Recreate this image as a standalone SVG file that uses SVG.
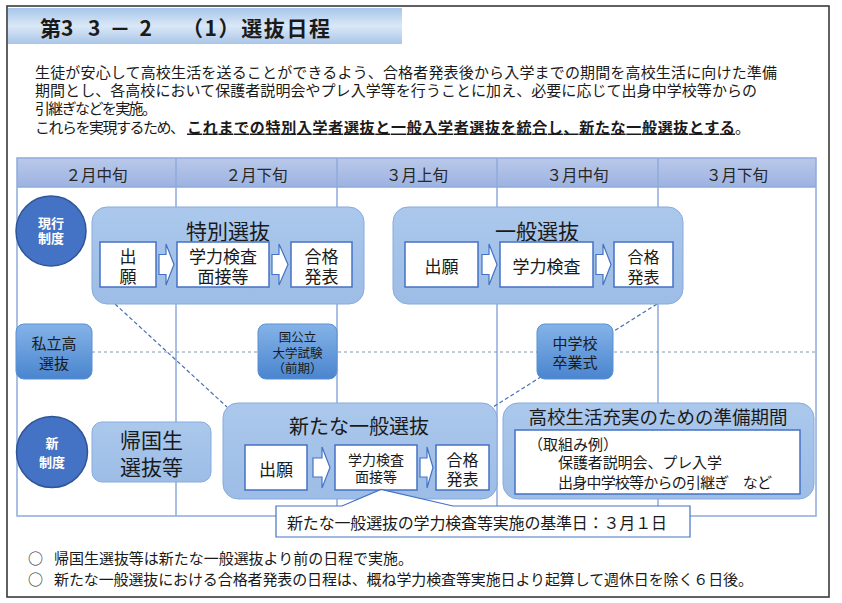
<svg xmlns="http://www.w3.org/2000/svg" width="842" height="603" viewBox="0 0 842 603">
<defs>
  <linearGradient id="gHead" x1="0" y1="0" x2="0" y2="1">
    <stop offset="0" stop-color="#a7c6ea"/>
    <stop offset="0.5" stop-color="#dae8f7"/>
    <stop offset="1" stop-color="#a9c5e8"/>
  </linearGradient>
  <linearGradient id="gTh" x1="0" y1="0" x2="0" y2="1">
    <stop offset="0" stop-color="#bac9ea"/>
    <stop offset="1" stop-color="#9cb2e0"/>
  </linearGradient>
  <linearGradient id="gEvt" x1="0" y1="0" x2="0" y2="1">
    <stop offset="0" stop-color="#85b3e8"/>
    <stop offset="1" stop-color="#4a85cf"/>
  </linearGradient>
  <linearGradient id="gBig" x1="0" y1="0" x2="0" y2="1">
    <stop offset="0" stop-color="#abc8ec"/>
    <stop offset="1" stop-color="#9dbde6"/>
  </linearGradient>
</defs>
<style>
  text { font-family: 'Noto Sans CJK JP','Noto Sans CJK SC',sans-serif; fill:#1a1a1a; }
  .m { text-anchor:middle; }
  .big { fill:url(#gBig); stroke:#86abdf; stroke-width:1; }
  .step { fill:#ffffff; stroke:#4472c4; stroke-width:1.5; }
  .arr { fill:#ffffff; stroke:#4472c4; stroke-width:1.2; }
  .evt { fill:url(#gEvt); stroke:#5b8fd3; stroke-width:1; }
  .circ { fill:#4472c4; stroke:#2f5597; stroke-width:1.5; }
  .ct { fill:#ffffff; font-weight:bold; font-size:13px; text-anchor:middle; }
  .grid { stroke:#8eaadb; stroke-width:1.5; fill:none; }
  .dd { stroke:#4a6fb5; stroke-width:1.2; stroke-dasharray:4 2.5; fill:none; }
  .dh { stroke:#8497b0; stroke-width:1; stroke-dasharray:3 3; fill:none; }
  .p { font-size:15px; }
  .th { font-size:15.5px; text-anchor:middle; fill:#262626; }
  .bt { font-size:21px; text-anchor:middle; }
  .s17 { font-size:17px; text-anchor:middle; }
</style>

<!-- frame -->
<rect x="7" y="6" width="822" height="591" fill="#ffffff" stroke="#3a3a3a" stroke-width="1.6"/>
<rect x="8" y="8" width="394" height="36" fill="url(#gHead)"/>

<g id="title">
  <text x="40" y="35.5" font-size="21" font-weight="bold">第3</text>
  <text x="88" y="35.5" font-size="21" font-weight="bold" textLength="64">3－2</text>
  <text x="182" y="35.5" font-size="21" font-weight="bold" textLength="148">（1）選抜日程</text>
</g>

<g id="intro">
  <text class="p" x="35" y="77.5" textLength="742">生徒が安心して高校生活を送ることができるよう、合格者発表後から入学までの期間を高校生活に向けた準備</text>
  <text class="p" x="35" y="95.5" textLength="722">期間とし、各高校において保護者説明会やプレ入学等を行うことに加え、必要に応じて出身中学校等からの</text>
  <text class="p" x="35" y="113.5" textLength="122">引継ぎなどを実施。</text>
  <text class="p" x="35" y="132.5" textLength="150">これらを実現するため、</text>
  <text class="p" x="187" y="132.5" textLength="548" font-weight="bold" text-decoration="underline">これまでの特別入学者選抜と一般入学者選抜を統合し、新たな一般選抜とする</text>
  <text class="p" x="735" y="132.5">。</text>
</g>

<!-- table grid -->
<g id="table">
  <rect x="17" y="158" width="799" height="29" fill="url(#gTh)"/>
  <rect x="17" y="158" width="799" height="358" class="grid"/>
  <line x1="17" y1="187" x2="816" y2="187" class="grid"/>
  <line x1="176" y1="158" x2="176" y2="516" class="grid"/>
  <line x1="337" y1="158" x2="337" y2="516" class="grid"/>
  <line x1="497" y1="158" x2="497" y2="516" class="grid"/>
  <line x1="658" y1="158" x2="658" y2="516" class="grid"/>
  <text class="th" x="96.5" y="180.5">２月中旬</text>
  <text class="th" x="256.5" y="180.5">２月下旬</text>
  <text class="th" x="417" y="180.5">３月上旬</text>
  <text class="th" x="577.5" y="180.5">３月中旬</text>
  <text class="th" x="737" y="180.5">３月下旬</text>
</g>

<g id="connectors">
  <line x1="92" y1="352" x2="816" y2="352" class="dh"/>
  <line x1="115" y1="304" x2="227" y2="407" class="dd"/>
  <line x1="657" y1="304" x2="493" y2="407" class="dd"/>
</g>

<g id="current-system">
  <circle cx="51" cy="231" r="35" class="circ"/>
  <text class="ct" x="51" y="227.5">現行<tspan x="51" dy="15.5">制度</tspan></text>
</g>

<g id="new-system">
  <circle cx="52" cy="452" r="35.5" class="circ"/>
  <text class="ct" x="52" y="447.5">新<tspan x="52" dy="19.5">制度</tspan></text>
</g>

<g id="tokubetsu">
  <rect x="92" y="207" width="272" height="97" rx="15" class="big"/>
  <text class="bt" x="228" y="238.5">特別選抜</text>
  <rect x="100" y="242" width="56" height="45" class="step"/>
  <text class="s17" x="128" y="263">出<tspan x="128" dy="20">願</tspan></text>
  <path class="arr" d="M159 254.5 H166 V244 L174 264.5 L166 285 V274.5 H159 Z"/>
  <rect x="177" y="242" width="92" height="45" class="step"/>
  <text class="s17" x="223" y="263">学力検査<tspan x="223" dy="20">面接等</tspan></text>
  <path class="arr" d="M272 254.5 H279 V244 L288 264.5 L279 285 V274.5 H272 Z"/>
  <rect x="291" y="242" width="61" height="45" class="step"/>
  <text class="s17" x="321.5" y="263">合格<tspan x="321.5" dy="20">発表</tspan></text>
</g>

<g id="ippan">
  <rect x="393" y="207" width="290" height="97" rx="15" class="big"/>
  <text class="bt" x="537" y="238.5">一般選抜</text>
  <rect x="405" y="242" width="73" height="45" class="step"/>
  <text class="s17" x="441.5" y="273">出願</text>
  <path class="arr" d="M482 254.5 H489 V244 L497 264.5 L489 285 V274.5 H482 Z"/>
  <rect x="500" y="242" width="93" height="45" class="step"/>
  <text class="s17" x="546.5" y="273">学力検査</text>
  <path class="arr" d="M596 254.5 H603 V244 L611 264.5 L603 285 V274.5 H596 Z"/>
  <rect x="614" y="242" width="59" height="45" class="step"/>
  <text x="643.5" y="262.5" font-size="16" class="m">合格<tspan x="643.5" dy="20">発表</tspan></text>
</g>

<g id="shiritsu">
  <rect x="16" y="324" width="76" height="55" rx="8" class="evt"/>
  <text x="54" y="348.5" font-size="15" class="m">私立高<tspan x="54" dy="20">選抜</tspan></text>
</g>

<g id="kokkoritsu">
  <rect x="258" y="324" width="79" height="55" rx="8" class="evt"/>
  <text x="297.5" y="341.5" font-size="12.5" class="m">国公立<tspan x="297.5" dy="16">大学試験</tspan><tspan x="297.5" dy="15">（前期）</tspan></text>
</g>

<g id="sotsugyo">
  <rect x="537" y="324" width="76" height="55" rx="8" class="evt"/>
  <text x="575" y="348.5" font-size="15" class="m">中学校<tspan x="575" dy="19">卒業式</tspan></text>
</g>

<g id="kikokusei">
  <rect x="92" y="422" width="119" height="60" rx="10" class="big"/>
  <text class="bt" x="151.5" y="447.5">帰国生<tspan x="151.5" dy="27">選抜等</tspan></text>
</g>

<g id="aratana">
  <rect x="223" y="403" width="274" height="96" rx="15" class="big"/>
  <text x="359" y="434" font-size="20" class="m">新たな一般選抜</text>
  <rect x="245" y="445" width="62" height="45" class="step"/>
  <text class="s17" x="276" y="476">出願</text>
  <path class="arr" d="M313 458 H322 V447 L330 467.5 L322 488 V477 H313 Z"/>
  <rect x="335" y="445" width="82" height="45" class="step"/>
  <text x="376" y="465" font-size="14" class="m">学力検査<tspan x="376" dy="17">面接等</tspan></text>
  <path class="arr" d="M420 458 H427 V447 L433 467.5 L427 488 V477 H420 Z"/>
  <rect x="436" y="445" width="53" height="45" class="step"/>
  <text x="462.5" y="466" font-size="16" class="m">合格<tspan x="462.5" dy="19">発表</tspan></text>
</g>

<g id="junbi">
  <rect x="503" y="403" width="311" height="96" rx="15" class="big"/>
  <text x="658" y="423.5" font-size="18.5" class="m">高校生活充実のための準備期間</text>
  <rect x="515" y="430" width="285" height="64" class="step"/>
  <text x="528" y="449.5" font-size="15">（取組み例）</text>
  <text x="558" y="468" font-size="15" textLength="164">保護者説明会、プレ入学</text>
  <text x="558" y="488" font-size="15" textLength="214">出身中学校等からの引継ぎ　など</text>
</g>

<g id="callout">
  <path d="M276 506 H342 L381 489.5 L453 506 H690 V537 H276 Z" fill="#ffffff" stroke="#4472c4" stroke-width="1.2"/>
  <text x="287" y="529" font-size="16" textLength="380">新たな一般選抜の学力検査等実施の基準日：３月１日</text>
</g>

<g id="notes">
  <text x="28" y="564" font-size="15">○<tspan x="54" textLength="359">帰国生選抜等は新たな一般選抜より前の日程で実施。</tspan></text>
  <text x="28" y="585" font-size="15">○<tspan x="54" textLength="699">新たな一般選抜における合格者発表の日程は、概ね学力検査等実施日より起算して週休日を除く６日後。</tspan></text>
</g>
</svg>
